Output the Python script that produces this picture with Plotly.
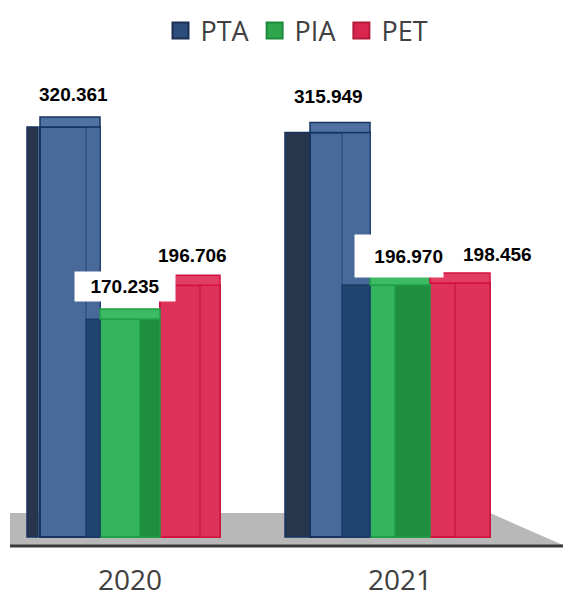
import plotly.graph_objects as go

# ---- data ----
years = ["2020", "2021"]
pta = [320.361, 315.949]
pia = [170.235, 196.970]
pet = [196.706, 198.456]

series_names = ["PTA", "PIA", "PET"]

# ---- styling ----
W, H = 563, 598
ML, MR, MT, MB = 0, 0, 80, 53
PLOT_H = H - MT - MB
PX_PER_UNIT = 270.0
X_CENTER0 = 130.0
Y_PX_PER_UNIT = 1.28
fill = {"PTA": "#48699a", "PIA": "#34b45c", "PET": "#df325b"}
top_fill = {"PTA": "#4f72a3", "PIA": "#3dba64", "PET": "#e23d63"}
edge = {"PTA": "#17335f", "PIA": "#1fa048", "PET": "#d4123f"}
back_line = {"PTA": "#2a4f80", "PIA": "#2a9a4a", "PET": "#c8143d"}
overlap = {"PTA": "#1f446f", "PIA": "#1f8f3f"}
legend_fill = {"PTA": "#2c4d7c", "PIA": "#2ea64e", "PET": "#d8264e"}
legend_edge = {"PTA": "#1a2f52", "PIA": "#1d8a3c", "PET": "#b51a3c"}
TOP_DEPTH_PX = 10

x = list(range(len(years)))
values = {"PTA": pta, "PIA": pia, "PET": pet}
next_series = {"PTA": "PIA", "PIA": "PET"}

def u(p):
    return p / PX_PER_UNIT

# right edges of the group slots (in x units, relative to category)
right_edge = {"PTA": -1 / 9, "PIA": 1 / 9, "PET": 3 / 9}
stripe_px = {"PTA": [14, 28], "PIA": [20, 35], "PET": [20, 35]}

fig = go.Figure()

for name in series_names:
    fig.add_trace(go.Bar(
        x=x, y=values[name], name=name, showlegend=False, hoverinfo="skip",
        marker=dict(color=fill[name], line=dict(color=edge[name], width=2))))

# dark left side face of the front (PTA) bars
fig.add_trace(go.Bar(
    x=x, y=pta, width=[u(11), u(25)], offset=[u(27 - 130), u(285 - 400)],
    marker=dict(color="#27364d", line=dict(color="#17335f", width=1.5)),
    showlegend=False, hoverinfo="skip"))

# back faces seen through the translucent bars
for name in series_names:
    w = [u(p) for p in stripe_px[name]]
    off = [right_edge[name] - wi for wi in w]
    fig.add_trace(go.Bar(
        x=x, y=values[name], width=w, offset=off,
        marker=dict(color=fill[name], line=dict(color=back_line[name], width=1.2)),
        showlegend=False, hoverinfo="skip"))
    if name in next_series:
        nxt = values[next_series[name]]
        fig.add_trace(go.Bar(
            x=x, y=[min(a, b) for a, b in zip(values[name], nxt)], width=w, offset=off,
            marker=dict(color=overlap[name], line=dict(color=edge[name], width=1)),
            showlegend=False, hoverinfo="skip"))

# top faces (depth of the 3-D box), sitting on each value
for name in series_names:
    fig.add_trace(go.Bar(
        x=x, base=values[name], y=[TOP_DEPTH_PX / Y_PX_PER_UNIT] * len(x),
        width=2 / 9, offset=right_edge[name] - 2 / 9,
        marker=dict(color=top_fill[name], line=dict(color=edge[name], width=1.5)),
        showlegend=False, hoverinfo="skip"))

# legend entries
for name in series_names:
    fig.add_trace(go.Scatter(
        x=[None], y=[None], mode="markers", name=name,
        marker=dict(symbol="square", size=16, color=legend_fill[name],
                    line=dict(color=legend_edge[name], width=2))))

# value labels
dx = {"PTA": [3, -12], "PIA": [-5, -1], "PET": [2, 37]}
dy = {"PTA": [32, 36], "PIA": [32.5, 29], "PET": [30, 28]}
boxes = {"PIA": [(100, 29, "center"), (88, 42, "right")]}
group_off = {"PTA": -2 / 9, "PIA": 0.0, "PET": 2 / 9}
annotations = []
for name in series_names:
    for i, v in enumerate(values[name]):
        a = dict(x=x[i] + group_off[name], y=v, xref="x", yref="y",
                 text=f"{v:.3f}", showarrow=False,
                 font=dict(family="Liberation Sans, Arial", size=19, color="#000000", weight="bold"),
                 xshift=dx[name][i], yshift=dy[name][i], xanchor="center", yanchor="middle")
        if name in boxes:
            w, h, al = boxes[name][i]
            a.update(bgcolor="#ffffff", width=w, height=h, align=al, borderpad=0)
        annotations.append(a)

def px(v):
    return (v - ML) / (W - ML - MR)

def py(v):
    return (H - MB - v) / PLOT_H

shapes = [
    dict(type="path", xref="paper", yref="paper", layer="below",
         path=f"M{px(10)},{py(513)} L{px(490)},{py(513)} L{px(563)},{py(545)} L{px(10)},{py(545)} Z",
         fillcolor="#b8b8b8", line=dict(width=0)),
    dict(type="line", xref="paper", yref="paper", layer="above",
         x0=px(10), x1=1, y0=py(546), y1=py(546),
         line=dict(color="#3a3a3a", width=3)),
]

fig.update_layout(
    width=W, height=H,
    margin=dict(l=ML, r=MR, t=MT, b=MB, autoexpand=False),
    paper_bgcolor="#ffffff", plot_bgcolor="rgba(0,0,0,0)",
    barmode="group", bargap=1 / 3, bargroupgap=0,
    showlegend=True,
    legend=dict(orientation="h", x=297 / W, xanchor="center",
                xref="container", yref="container", y=1 - 31 / H, yanchor="middle",
                font=dict(family="Open Sans", size=27, color="#404040"),
                itemsizing="trace", itemwidth=30, tracegroupgap=0),
    xaxis=dict(range=[(0 - X_CENTER0) / PX_PER_UNIT, (W - X_CENTER0) / PX_PER_UNIT],
               tickvals=x, ticktext=years, ticks="outside", ticklen=10,
               tickcolor="rgba(0,0,0,0)", showgrid=False, zeroline=False, showline=False,
               tickfont=dict(family="Open Sans", size=28, color="#404040"), fixedrange=True),
    yaxis=dict(range=[-6.25, (H - MB - MT) / Y_PX_PER_UNIT - 6.25], visible=False, fixedrange=True),
    annotations=annotations, shapes=shapes,
)

fig.write_html("out.html", config={"displayModeBar": False},
               post_script="document.body.style.margin='0';document.body.style.overflow='hidden';")
